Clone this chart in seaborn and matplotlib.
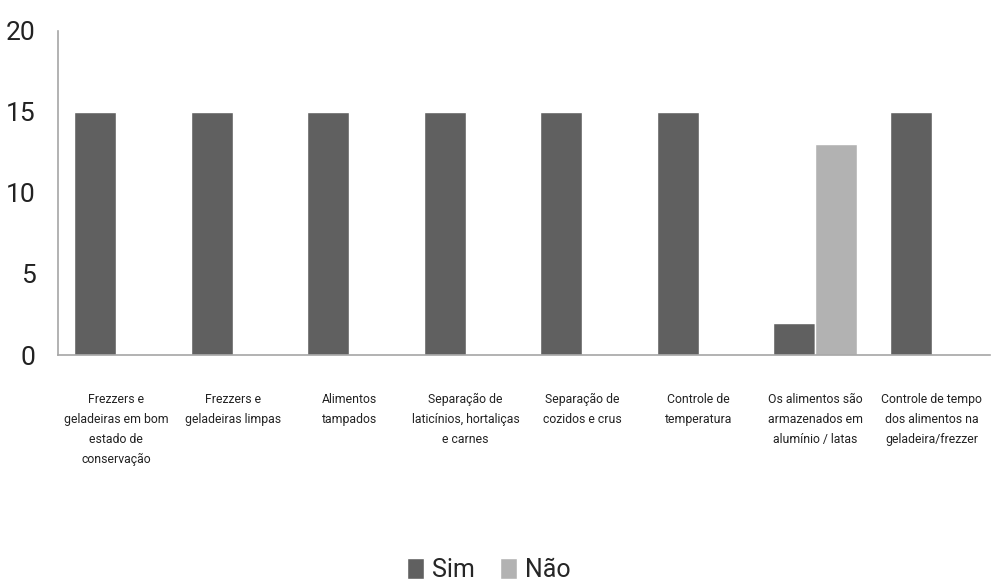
import pandas as pd
import matplotlib
matplotlib.use('Agg')
import matplotlib.pyplot as plt
import seaborn as sns

# categories (x labels) and the two series
categorias = [
    'Frezzers e\ngeladeiras em bom\nestado de\nconservação',
    'Frezzers e\ngeladeiras limpas',
    'Alimentos\ntampados',
    'Separação de\nlaticínios, hortaliças\ne carnes',
    'Separação de\ncozidos e crus',
    'Controle de\ntemperatura',
    'Os alimentos são\narmazenados em\nalumínio / latas',
    'Controle de tempo\ndos alimentos na\ngeladeira/frezzer',
]
sim = [15, 15, 15, 15, 15, 15, 2, 15]
nao = [0, 0, 0, 0, 0, 0, 13, 0]
series = ['Sim', 'Não']
cores = ['#606060', '#b2b2b2']
yticks = [0, 5, 10, 15, 20]

df = pd.DataFrame({
    'categoria': categorias * 2,
    'valor': sim + nao,
    'resposta': ['Sim'] * len(sim) + ['Não'] * len(nao),
})

sns.set_style('white')
plt.rcParams['font.family'] = ['Roboto', 'DejaVu Sans']

fig = plt.figure(figsize=(9.97, 5.87), dpi=100)
ax = fig.add_axes([0.058, 0.395, 0.935, 0.553])

sns.barplot(data=df, x='categoria', y='valor', hue='resposta', hue_order=series,
            palette=cores, width=0.72, saturation=1, ax=ax, legend=True)

ax.set_ylim(0, 20)
ax.set_yticks(yticks)
ax.set_xlim(-0.5, len(categorias) - 0.5)
ax.set_xlabel('')
ax.set_ylabel('')
ax.tick_params(axis='y', labelsize=19, length=0, pad=16, colors='#222222')
ax.tick_params(axis='x', labelsize=8.8, length=0, pad=27, colors='#222222')
for lbl in ax.get_xticklabels():
    lbl.set_linespacing(1.7)
    lbl.set_verticalalignment('top')

for side in ['top', 'right']:
    ax.spines[side].set_visible(False)
for side in ['left', 'bottom']:
    ax.spines[side].set_color('#a6a6a6')
    ax.spines[side].set_linewidth(1.2)

handles, labels = ax.get_legend_handles_labels()
ax.get_legend().remove()
fig.legend(handles, labels, loc='lower center', bbox_to_anchor=(0.49, -0.03), ncol=2,
           frameon=False, fontsize=18, handlelength=0.7, handleheight=0.9,
           handletextpad=0.3, columnspacing=1.0)

fig.savefig('out.png', dpi=100)
